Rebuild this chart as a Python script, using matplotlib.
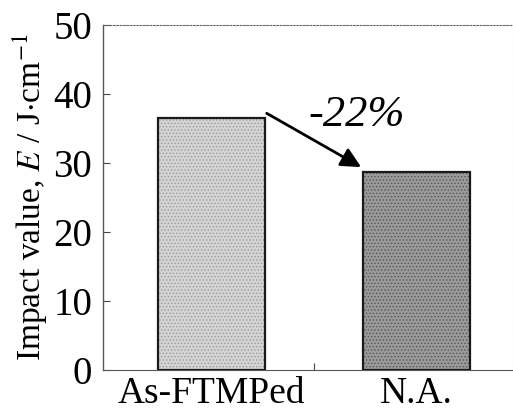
import matplotlib.pyplot as plt

plt.rcParams['font.family'] = ['Liberation Serif', 'DejaVu Serif']
plt.rcParams['mathtext.fontset'] = 'stix'
plt.rcParams['hatch.linewidth'] = 0.6

conditions = ['As-FTMPed', 'N.A.']
impact_values = [36.5, 28.7]
bar_colors = ['#d4d4d4', '#9a9a9a']
hatch_colors = ['#9a9a9a', '#555555']

fig = plt.figure(figsize=(5.13, 4.17), dpi=100)
ax = fig.add_axes([0.201, 0.113, 0.799, 0.827])

for i, (val, fc, hc) in enumerate(zip(impact_values, bar_colors, hatch_colors)):
    ax.bar(i, val, width=0.52, facecolor=fc, edgecolor=hc, hatch='.....',
           linewidth=0, zorder=2)
    ax.bar(i, val, width=0.52, facecolor='none', edgecolor='#1a1a1a',
           linewidth=1.6, zorder=3)

ax.set_xlim(-0.527, 1.47)
ax.set_ylim(0, 50)
ax.set_yticks([0, 10, 20, 30, 40, 50])
ax.set_xticks([0, 0.5, 1])
ax.set_xticklabels([conditions[0], '', conditions[1]])
ax.tick_params(axis='both', direction='in', labelsize=28, length=5,
               width=0.8, color='#444444', pad=8)
ax.tick_params(axis='x', pad=5, labelsize=27)
ax.set_ylabel('Impact value, $\\mathit{E}$ / J$\\cdot$cm$^{-1}$', fontsize=24,
              labelpad=2)

ax.spines['left'].set_color('#555555')
ax.spines['left'].set_linewidth(1.0)
ax.spines['bottom'].set_color('#555555')
ax.spines['bottom'].set_linestyle((0, (2, 1)))
ax.spines['top'].set_color('#666666')
ax.spines['top'].set_linestyle((0, (1.5, 1.5)))
ax.spines['top'].set_linewidth(0.8)
ax.spines['right'].set_color('#cccccc')
ax.spines['right'].set_linestyle((0, (1, 3)))

ax.annotate('', xy=(0.73, 29.4), xytext=(0.27, 37.2),
            arrowprops=dict(arrowstyle='-|>,head_length=1.2,head_width=0.6',
                            color='black', lw=2.0, shrinkA=0, shrinkB=0))
ax.text(0.71, 37.0, '-22%', fontsize=32, style='italic',
        ha='center', va='center')

fig.savefig('out.png', dpi=100)
